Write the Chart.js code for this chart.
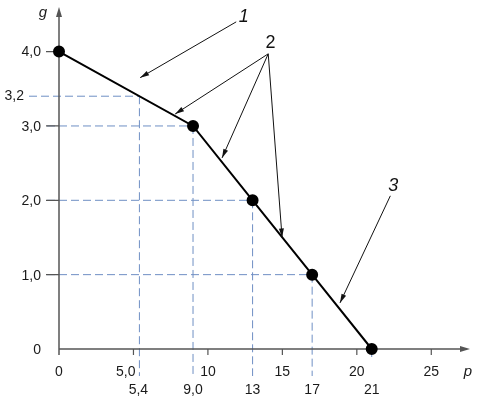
<!DOCTYPE html>
<html>
<head>
<meta charset="utf-8">
<script src="https://cdn.jsdelivr.net/npm/chart.js@4"></script>
<style>
  html, body { margin: 0; padding: 0; background: #fff; }
  canvas { display: block; }
</style>
</head>
<body>
<canvas id="chart" width="483" height="398"></canvas>
<script>
// ---------- DATA ----------
const pValues = [0, 9, 13, 17, 21];
const gValues = [4, 3, 2, 1, 0];

const xTicks = [0, 5, 10, 15, 20, 25];
const xTickLabels = ["0", "5,0", "10", "15", "20", "25"];
const yTicks = [0, 1, 2, 3, 4];
const yTickLabels = ["0", "1,0", "2,0", "3,0", "4,0"];

// dashed read-off guides (second row of labels)
const guideP = [5.4, 9, 13, 17, 21];
const guideG = [3.4, 3, 2, 1, 0];
const guidePLabels = ["5,4", "9,0", "13", "17", "21"];
const guideGLabels = ["3,2", "", "", "", ""];

// callouts: label, label pos, arrow start, arrow targets (data units)
const callouts = [
  { text: "1", at: [12.4, 4.47], from: [11.9, 4.40], to: [[5.45, 3.65]] },
  { text: "2", at: [14.2, 4.12], from: [14.05, 3.97], to: [[7.8, 3.16], [10.95, 2.57], [14.98, 1.5]] },
  { text: "3", at: [22.45, 2.19], from: [22.25, 2.06], to: [[18.87, 0.62]] }
];

const FONT = '"Liberation Sans", Arial, sans-serif';

// ---------- HELPERS ----------
function arrowHead(ctx, x0, y0, x1, y1, len, wid) {
  const a = Math.atan2(y1 - y0, x1 - x0);
  ctx.beginPath();
  ctx.moveTo(x1, y1);
  ctx.lineTo(x1 - len * Math.cos(a) + wid * Math.sin(a), y1 - len * Math.sin(a) - wid * Math.cos(a));
  ctx.lineTo(x1 - len * Math.cos(a) - wid * Math.sin(a), y1 - len * Math.sin(a) + wid * Math.cos(a));
  ctx.closePath();
  ctx.fill();
}

// ---------- PLUGIN: axes, guides, labels ----------
const axesPlugin = {
  id: "axesPlugin",
  beforeDatasetsDraw(chart) {
    const { ctx, chartArea } = chart;
    const xs = chart.scales.x, ys = chart.scales.y;
    const x0 = xs.getPixelForValue(0), y0 = ys.getPixelForValue(0);

    ctx.save();
    // dashed guides
    ctx.strokeStyle = "#6f8fc4";
    ctx.lineWidth = 1;
    ctx.setLineDash([8, 4]);
    guideP.forEach((p, i) => {
      const px = xs.getPixelForValue(p), py = ys.getPixelForValue(guideG[i]);
      if (guideG[i] > 0) {
        ctx.beginPath();
        ctx.moveTo(guideGLabels[i] ? x0 - 30 : x0 - 12, py);
        ctx.lineTo(px, py);
        ctx.stroke();
      }
      ctx.beginPath();
      ctx.moveTo(px, py);
      ctx.lineTo(px, y0 + (guideG[i] > 0 ? 27 : 12));
      ctx.stroke();
    });
    ctx.setLineDash([]);

    // axes
    ctx.strokeStyle = "#555";
    ctx.fillStyle = "#555";
    ctx.lineWidth = 1.5;
    ctx.beginPath();
    ctx.moveTo(x0, y0 + 6);
    ctx.lineTo(x0, chartArea.top + 6);
    ctx.moveTo(x0, y0);
    ctx.lineTo(chartArea.right - 6, y0);
    ctx.stroke();
    arrowHead(ctx, x0, y0, x0, chartArea.top, 10, 3);
    arrowHead(ctx, x0, y0, chartArea.right, y0, 10, 3);

    // ticks
    ctx.lineWidth = 1.2;
    ctx.beginPath();
    xTicks.forEach(v => {
      if (v === 0) return;
      const px = xs.getPixelForValue(v);
      ctx.moveTo(px, y0);
      ctx.lineTo(px, y0 + 6);
    });
    yTicks.forEach(v => {
      if (v === 0) return;
      const py = ys.getPixelForValue(v);
      ctx.moveTo(x0 - 13, py);
      ctx.lineTo(x0, py);
    });
    ctx.stroke();

    // tick labels
    ctx.fillStyle = "#1a1a1a";
    ctx.font = "14px " + FONT;
    ctx.textBaseline = "middle";
    xTicks.forEach((v, i) => {
      const px = xs.getPixelForValue(v);
      // "5,0" sits left of its tick to keep clear of the 5,4 guide
      if (v === 5) {
        ctx.textAlign = "right";
        ctx.fillText(xTickLabels[i], px + 2, y0 + 23);
      } else {
        ctx.textAlign = "center";
        ctx.fillText(xTickLabels[i], px, y0 + 23);
      }
    });
    ctx.textAlign = "center";
    guideP.forEach((p, i) => {
      ctx.fillText(guidePLabels[i], xs.getPixelForValue(p) - (i === 0 ? 1 : 0), y0 + 41);
    });
    ctx.textAlign = "right";
    yTicks.forEach((v, i) => {
      ctx.fillText(yTickLabels[i], x0 - 18, ys.getPixelForValue(v) + 1);
    });
    guideG.forEach((g, i) => {
      if (guideGLabels[i]) ctx.fillText(guideGLabels[i], x0 - 35, ys.getPixelForValue(g));
    });

    // axis names
    ctx.font = "italic 15px " + FONT;
    ctx.textAlign = "center";
    ctx.fillText("g", x0 - 16, chartArea.top + 6);
    ctx.fillText("p", chartArea.right - 2, y0 + 23);
    ctx.restore();
  },
  afterDatasetsDraw(chart) {
    const { ctx } = chart;
    const xs = chart.scales.x, ys = chart.scales.y;
    ctx.save();
    ctx.strokeStyle = "#111";
    ctx.fillStyle = "#111";
    ctx.lineWidth = 1;
    callouts.forEach(c => {
      const fx = xs.getPixelForValue(c.from[0]), fy = ys.getPixelForValue(c.from[1]);
      c.to.forEach(t => {
        const tx = xs.getPixelForValue(t[0]), ty = ys.getPixelForValue(t[1]);
        ctx.beginPath();
        ctx.moveTo(fx, fy);
        ctx.lineTo(tx, ty);
        ctx.stroke();
        arrowHead(ctx, fx, fy, tx, ty, 9, 2.5);
      });
      ctx.font = (c.text === "2" ? "" : "italic ") + "18px " + FONT;
      ctx.textAlign = "center";
      ctx.textBaseline = "middle";
      ctx.fillText(c.text, xs.getPixelForValue(c.at[0]), ys.getPixelForValue(c.at[1]));
    });
    ctx.restore();
  }
};

// ---------- CHART ----------
new Chart(document.getElementById("chart"), {
  type: "scatter",
  data: {
    datasets: [{
      data: pValues.map((p, i) => ({ x: p, y: gValues[i] })),
      showLine: true,
      borderColor: "#000",
      borderWidth: 2,
      pointRadius: 5,
      pointBackgroundColor: "#000",
      pointBorderColor: "#000",
      clip: false
    }]
  },
  options: {
    responsive: false,
    animation: false,
    devicePixelRatio: 1,
    layout: { padding: { left: 59, right: 13, top: 5, bottom: 49 } },
    plugins: { legend: { display: false }, tooltip: { enabled: false } },
    scales: {
      x: { type: "linear", min: 0, max: 27.6, display: false },
      y: { type: "linear", min: 0, max: 4.6, display: false }
    }
  },
  plugins: [axesPlugin]
});
</script>
</body>
</html>
